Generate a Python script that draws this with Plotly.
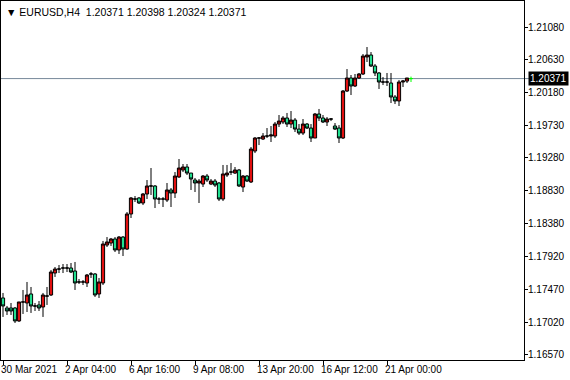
import plotly.graph_objects as go

symbol = "EURUSD,H4"

opens = [1.17354, 1.17216, 1.17216, 1.17216, 1.17038, 1.17299, 1.17285, 1.17409, 1.17244, 1.17258,
         1.17230, 1.17381, 1.17395, 1.17697, 1.17752, 1.17766, 1.17766, 1.17766, 1.17725, 1.17574,
         1.17574, 1.17560, 1.17684, 1.17684, 1.17409, 1.17560, 1.18082, 1.18110, 1.18165, 1.18014,
         1.18192, 1.18027, 1.18509, 1.18715, 1.18729, 1.18660, 1.18784, 1.18894, 1.18894, 1.18715,
         1.18715, 1.18701, 1.18839, 1.18797, 1.19018, 1.19114, 1.19155, 1.19072, 1.18976, 1.18935,
         1.18921, 1.19031, 1.18921, 1.18962, 1.18935, 1.18715, 1.19045, 1.19086, 1.19072, 1.19114,
         1.18880, 1.19031, 1.18949, 1.19375, 1.19554, 1.19540, 1.19581, 1.19581, 1.19581, 1.19746,
         1.19774, 1.19829, 1.19746, 1.19801, 1.19677, 1.19622, 1.19746, 1.19691, 1.19554, 1.19884,
         1.19829, 1.19774, 1.19815, 1.19719, 1.19691, 1.19554, 1.20200, 1.20379, 1.20269, 1.20379,
         1.20434, 1.20668, 1.20695, 1.20544, 1.20448, 1.20324, 1.20324, 1.20310, 1.20118, 1.20063,
         1.20324, 1.20337, 1.20371]
highs = [1.17423, 1.17244, 1.17285, 1.17230, 1.17299, 1.17464, 1.17574, 1.17505, 1.17285, 1.17312,
         1.17423, 1.17505, 1.17739, 1.17780, 1.17807, 1.17821, 1.17821, 1.17835, 1.17849, 1.17615,
         1.17601, 1.17684, 1.17711, 1.17697, 1.17629, 1.18138, 1.18192, 1.18179, 1.18192, 1.18206,
         1.18206, 1.18536, 1.18742, 1.18756, 1.18742, 1.18797, 1.18976, 1.19141, 1.18907, 1.18742,
         1.18742, 1.18935, 1.18866, 1.19086, 1.19265, 1.19196, 1.19196, 1.19072, 1.19004, 1.18990,
         1.19045, 1.19059, 1.18990, 1.18990, 1.18949, 1.19183, 1.19183, 1.19210, 1.19155, 1.19128,
         1.19045, 1.19045, 1.19430, 1.19567, 1.19567, 1.19622, 1.19691, 1.19719, 1.19774, 1.19870,
         1.19856, 1.19898, 1.19925, 1.19829, 1.19746, 1.19815, 1.19760, 1.19746, 1.19898, 1.19953,
         1.19870, 1.19842, 1.19829, 1.19760, 1.19732, 1.20214, 1.20502, 1.20420, 1.20434, 1.20448,
         1.20709, 1.20805, 1.20736, 1.20571, 1.20461, 1.20392, 1.20448, 1.20448, 1.20145, 1.20351,
         1.20351, 1.20379, 1.20398]
lows = [1.17093, 1.17120, 1.17120, 1.17010, 1.17024, 1.17134, 1.17161, 1.17148, 1.17175, 1.17175,
        1.17093, 1.17258, 1.17381, 1.17643, 1.17697, 1.17697, 1.17711, 1.17697, 1.17464, 1.17546,
        1.17532, 1.17505, 1.17629, 1.17368, 1.17354, 1.17532, 1.18055, 1.18069, 1.17986, 1.17959,
        1.17931, 1.18014, 1.18454, 1.18674, 1.18646, 1.18632, 1.18715, 1.18770, 1.18591, 1.18646,
        1.18605, 1.18674, 1.18605, 1.18729, 1.19004, 1.19086, 1.19045, 1.18839, 1.18811, 1.18660,
        1.18880, 1.18949, 1.18907, 1.18880, 1.18687, 1.18687, 1.19018, 1.19045, 1.19059, 1.18880,
        1.18811, 1.18949, 1.18935, 1.19347, 1.19457, 1.19526, 1.19554, 1.19499, 1.19554, 1.19705,
        1.19746, 1.19705, 1.19691, 1.19636, 1.19595, 1.19595, 1.19677, 1.19499, 1.19554, 1.19787,
        1.19760, 1.19719, 1.19787, 1.19664, 1.19485, 1.19540, 1.20186, 1.20145, 1.20255, 1.20365,
        1.20420, 1.20599, 1.20530, 1.20406, 1.20228, 1.20282, 1.20269, 1.20035, 1.20021, 1.19994,
        1.20255, 1.20310, 1.20324]
closes = [1.17244, 1.17175, 1.17175, 1.17038, 1.17299, 1.17299, 1.17395, 1.17244, 1.17244, 1.17216,
          1.17395, 1.17381, 1.17711, 1.17752, 1.17752, 1.17766, 1.17766, 1.17711, 1.17560, 1.17574,
          1.17574, 1.17670, 1.17684, 1.17395, 1.17574, 1.18096, 1.18124, 1.18165, 1.18014, 1.18192,
          1.18027, 1.18509, 1.18729, 1.18715, 1.18660, 1.18784, 1.18894, 1.18894, 1.18715, 1.18715,
          1.18715, 1.18839, 1.18797, 1.19031, 1.19141, 1.19155, 1.19072, 1.18990, 1.18935, 1.18962,
          1.19031, 1.18976, 1.18962, 1.18907, 1.18715, 1.19059, 1.19072, 1.19086, 1.19114, 1.18894,
          1.19031, 1.18962, 1.19402, 1.19554, 1.19554, 1.19581, 1.19581, 1.19595, 1.19746, 1.19787,
          1.19829, 1.19746, 1.19801, 1.19677, 1.19622, 1.19746, 1.19691, 1.19554, 1.19884, 1.19829,
          1.19774, 1.19815, 1.19815, 1.19677, 1.19554, 1.20200, 1.20379, 1.20269, 1.20379, 1.20434,
          1.20681, 1.20695, 1.20544, 1.20448, 1.20324, 1.20324, 1.20324, 1.20118, 1.20063, 1.20324,
          1.20337, 1.20379, 1.20371]

time_ticks = [0, 16, 32, 48, 64, 80, 96]
time_labels = ["30 Mar 2021", "2 Apr 04:00", "6 Apr 16:00", "9 Apr 08:00",
               "13 Apr 20:00", "16 Apr 12:00", "21 Apr 00:00"]
price_ticks = [1.16570, 1.17020, 1.17470, 1.17920, 1.18380, 1.18830,
               1.19280, 1.19730, 1.20180, 1.20630, 1.21080]

bars = list(range(len(opens)))
n = len(bars) - 1

FONT = "Liberation Sans"
fig = go.Figure()
fig.add_trace(go.Candlestick(
    x=bars[:n], open=opens[:n], high=highs[:n], low=lows[:n], close=closes[:n],
    increasing=dict(line=dict(color="black", width=1), fillcolor="#E01010"),
    decreasing=dict(line=dict(color="black", width=1), fillcolor="#20E090"),
    whiskerwidth=0, showlegend=False, hoverinfo="skip"))
fig.add_trace(go.Candlestick(
    x=bars[n:], open=opens[n:], high=highs[n:], low=lows[n:], close=closes[n:],
    increasing=dict(line=dict(color="#00FF00", width=1), fillcolor="#00FF00"),
    decreasing=dict(line=dict(color="#00FF00", width=1), fillcolor="#00FF00"),
    whiskerwidth=0, showlegend=False, hoverinfo="skip"))

last = closes[-1]
fig.add_shape(type="line", xref="paper", x0=0, x1=1.01, yref="y", y0=last, y1=last,
              line=dict(color="#778899", width=1), layer="below")

fig.add_annotation(xref="paper", yref="y", x=1, y=last, xanchor="left", yanchor="middle",
                   xshift=4, text=f"{last:.5f}", showarrow=False,
                   font=dict(family=FONT, size=10, color="white"), bgcolor="black",
                   borderpad=1)

header = f"▼ {symbol}  {opens[-1]:.5f} {highs[-1]:.5f} {lows[-1]:.5f} {closes[-1]:.5f}"
fig.add_annotation(xref="paper", yref="paper", x=0, y=1, xanchor="left", yanchor="top",
                   xshift=3, yshift=-3, text=header, showarrow=False,
                   font=dict(family=FONT, size=10.5, color="black"))

fig.update_layout(
    template="none",
    width=570, height=380,
    margin=dict(l=1, r=46, t=1, b=20, autoexpand=False),
    paper_bgcolor="white", plot_bgcolor="white",
    font=dict(family=FONT, size=10, color="black"),
    boxgap=0.2, boxgroupgap=0,
    hovermode=False,
    xaxis=dict(range=[-0.5, 130.25], rangeslider=dict(visible=False),
               tickmode="array", tickvals=time_ticks, ticktext=time_labels,
               tickangle=0, automargin=False,
               ticks="outside", ticklen=4, tickcolor="black",
               ticklabelposition="outside right",
               showgrid=False, zeroline=False,
               showline=True, linecolor="black", linewidth=1, mirror=True),
    yaxis=dict(range=[1.16501, 1.21438], side="right", automargin=False,
               tickmode="array", tickvals=price_ticks,
               ticktext=[f"{v:.5f}" for v in price_ticks],
               ticks="outside", ticklen=3, tickcolor="black",
               showgrid=False, zeroline=False,
               showline=True, linecolor="black", linewidth=1, mirror=True),
)
try:
    fig.update_xaxes(ticklabelshift=-3)
except Exception:
    pass
try:
    fig.update_yaxes(ticklabelstandoff=-2)
except Exception:
    pass

fig.write_html("out.html", config={"displayModeBar": False},
               post_script="document.body.style.margin='0';document.body.style.padding='0';")
